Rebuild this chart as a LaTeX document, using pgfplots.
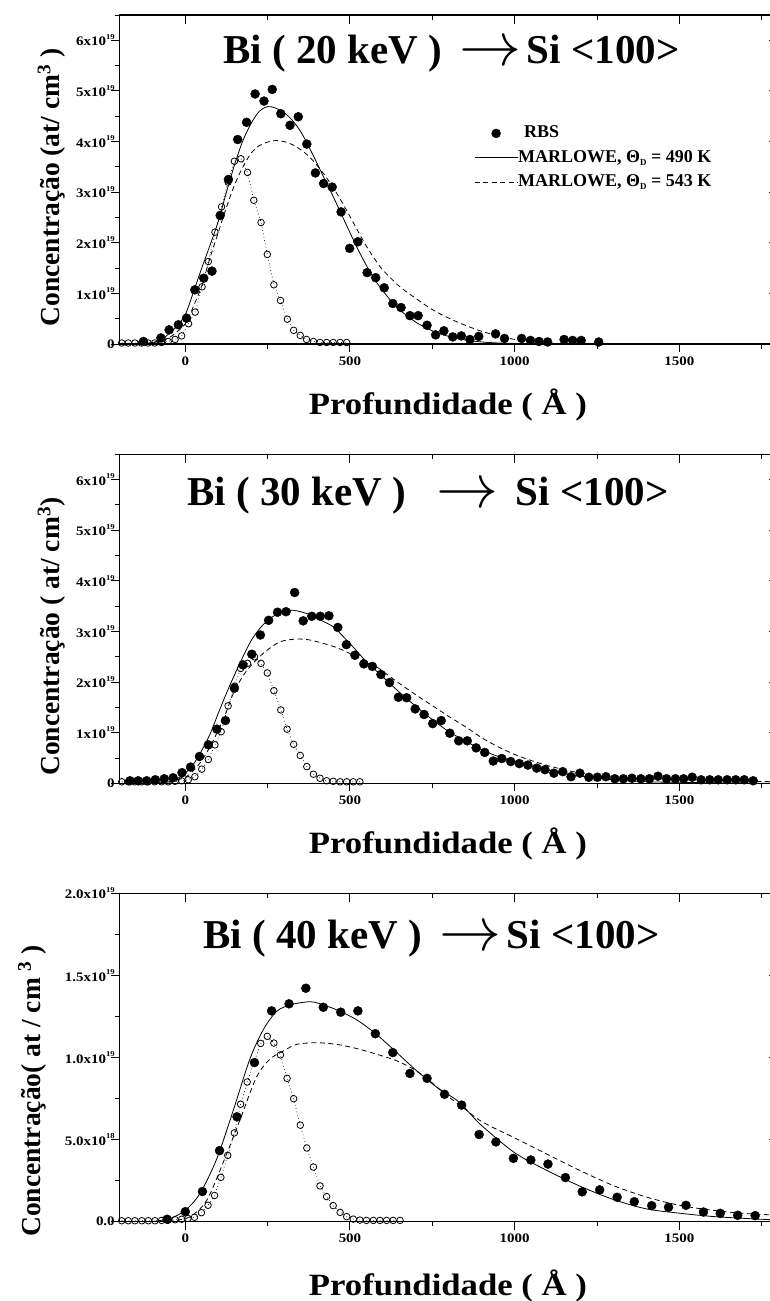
\documentclass[border=0pt]{standalone}
\usepackage{fontspec}
\setmainfont{Liberation Serif}
\usepackage{graphicx}
\usepackage{pgfplots}
\pgfplotsset{compat=1.18}

\newcommand{\tk}[1]{\scalebox{1.15}[1]{\fontsize{13}{13}\selectfont\bfseries #1}}
\newcommand{\ex}[1]{\raisebox{6.5pt}{\fontsize{7.5}{7.5}\selectfont\bfseries #1}}
\newcommand{\ttl}{\fontsize{41}{41}\selectfont\bfseries}
\newcommand{\arr}{\raisebox{-2.1pt}{\scalebox{6.2}{\fontsize{10}{10}\selectfont$\rightarrow$}}}
\newcommand{\xl}{\scalebox{1.12}[1]{Profundidade ( Å )}}

\pgfplotsset{
  panel/.style={scale only axis, width=658.8pt, xmin=-200, xmax=1800, ymin=0,
    xtick={0,500,1000,1500}, minor xtick={250,750,1250,1750},
    axis line style={line width=1.3pt}, every tick/.style={black, line width=1pt}, clip=false},
  lower/.style={panel, xtick pos=left, ytick pos=left, tick align=outside,
    major tick length=8pt, minor tick length=4.5pt,
    xticklabels={\tk{0},\tk{500},\tk{1000},\tk{1500}},
    xticklabel style={yshift=-1pt}, yticklabel style={inner xsep=1.5pt, xshift=5pt},
    xlabel style={font=\fontsize{31}{31}\selectfont\bfseries, anchor=base},
    ylabel style={font=\fontsize{27.5}{27.5}\selectfont\bfseries, anchor=base}},
  upper/.style={panel, xtick pos=right, ytick pos=right, tick align=inside,
    major tick length=9pt, minor tick length=5pt, xticklabels={}, yticklabels={},
    tick label style={opacity=0}},
  rbs/.style={only marks, mark=*, mark size=4.5pt, black},
  ocs/.style={black, line width=0.6pt, dash pattern=on 0.8pt off 2.6pt, mark=o,
    mark size=3.3pt, mark options={solid, line width=0.8pt}},
  m490/.style={black, line width=0.8pt, smooth, no marks},
  m543/.style={black, line width=0.8pt, dash pattern=on 5pt off 3.5pt, smooth, no marks},
  lineleg/.style={legend image code/.code={\draw[##1] (0pt,0pt) -- (43pt,0pt);}},
  markleg/.style={legend image code/.code={\draw[##1] plot coordinates {(21.5pt,0pt)};}},
}

\begin{document}
\begin{tikzpicture}

%%%%%%%%%%%%%%%% Panel 1 : 20 keV
\begin{axis}[upper, at={(119.4pt,-344pt)}, anchor=south west, height=329pt, ymax=6.5,
  ytick={0,1,2,3,4,5,6}, minor ytick={0.5,1.5,2.5,3.5,4.5,5.5,6.5}]
\end{axis}
\begin{axis}[lower, at={(119.4pt,-344pt)}, anchor=south west, height=329pt, ymax=6.5,
  ytick={0,1,2,3,4,5,6}, minor ytick={0.5,1.5,2.5,3.5,4.5,5.5,6.5},
  yticklabels={\tk{0},\tk{1x10\ex{19}},\tk{2x10\ex{19}},\tk{3x10\ex{19}},\tk{4x10\ex{19}},\tk{5x10\ex{19}},\tk{6x10\ex{19}}},
  xlabel={\xl}, xlabel style={at={(axis description cs:0.4988,-0.2128)}},
  ylabel={Concentração (at/ cm\textsuperscript{3} )}, ylabel style={at={(axis description cs:-0.0912,0.4757)}},
  legend style={draw=none, fill=none, at={(axis description cs:0.5383,0.6666)}, anchor=north west,
    font=\fontsize{18}{18}\selectfont\bfseries, inner sep=0pt, row sep=7.5pt, column sep=0pt,
    nodes={inner sep=0pt, text height=13pt, text depth=4pt}},
  legend cell align=left, lineleg]
\addplot[ocs, forget plot] table {
-193 0.02
-173 0.02
-153 0.02
-133 0.02
-113 0.02
-93 0.02
-72 0.03
-52 0.05
-31 0.09
-11 0.16
10 0.40
30 0.63
51 1.13
70 1.63
90 2.21
110 2.71
130 3.20
149 3.61
169 3.66
189 3.39
208 2.84
230 2.40
249 1.77
269 1.17
289 0.86
310 0.49
329 0.27
349 0.17
368 0.09
389 0.05
409 0.03
429 0.03
449 0.03
470 0.03
490 0.03
};
\addplot[rbs, markleg] table {
-127 0.05
-74 0.12
-49 0.28
-21 0.38
4 0.51
29 1.07
56 1.30
81 1.44
106 2.54
131 3.25
159 4.04
186 4.38
212 4.94
239 4.80
264 5.03
290 4.55
318 4.32
343 4.49
369 3.95
395 3.38
420 3.17
446 3.10
473 2.61
499 1.89
524 2.02
552 1.41
578 1.31
604 1.11
630 0.80
655 0.72
682 0.56
707 0.56
734 0.37
760 0.18
785 0.26
812 0.14
838 0.16
864 0.09
891 0.15
942 0.20
969 0.11
1021 0.11
1048 0.07
1074 0.05
1100 0.04
1150 0.09
1176 0.07
1202 0.07
1255 0.04
};
\addlegendentry{\hspace{6pt}RBS}
\addplot[m490] table {
-150 0
-100 0.03
-75 0.08
-50 0.20
-25 0.36
0 0.58
25 1.03
50 1.50
75 1.95
100 2.42
125 3.00
150 3.55
175 4.02
200 4.36
225 4.60
250 4.69
275 4.66
300 4.57
325 4.42
350 4.20
375 3.90
400 3.57
425 3.23
450 2.90
475 2.55
500 2.20
525 1.86
550 1.55
575 1.27
600 1.05
625 0.85
650 0.68
700 0.43
750 0.26
800 0.15
850 0.08
900 0.04
950 0.02
1000 0.01
1100 0
};
\addlegendentry{MARLOWE, Θ\raisebox{-3pt}{\fontsize{9}{9}\selectfont D} = 490 K}
\addplot[m543] table {
-120 0
-100 0.02
-50 0.12
0 0.40
25 0.75
50 1.15
75 1.70
100 2.20
125 2.70
150 3.15
175 3.50
200 3.77
225 3.92
250 3.99
275 4.02
300 4.00
325 3.94
350 3.84
375 3.71
400 3.53
425 3.32
450 3.08
475 2.81
500 2.52
525 2.22
550 1.93
575 1.68
600 1.46
650 1.14
700 0.90
750 0.68
800 0.51
850 0.37
900 0.25
950 0.16
1000 0.09
1050 0.05
1100 0.02
1150 0
};
\addlegendentry{MARLOWE, Θ\raisebox{-3pt}{\fontsize{9}{9}\selectfont D} = 543 K}
\node[anchor=base] at (axis description cs:0.5041,0.8532) {\ttl Bi ( 20 keV )\hspace{18pt}\arr\hspace{5pt}Si <100>};
\end{axis}

%%%%%%%%%%%%%%%% Panel 2 : 30 keV
\begin{axis}[upper, at={(119.4pt,-783.3pt)}, anchor=south west, height=329pt, ymax=6.5,
  ytick={0,1,2,3,4,5,6}, minor ytick={0.5,1.5,2.5,3.5,4.5,5.5,6.5}]
\end{axis}
\begin{axis}[lower, at={(119.4pt,-783.3pt)}, anchor=south west, height=329pt, ymax=6.5,
  ytick={0,1,2,3,4,5,6}, minor ytick={0.5,1.5,2.5,3.5,4.5,5.5,6.5},
  yticklabels={\tk{0},\tk{1x10\ex{19}},\tk{2x10\ex{19}},\tk{3x10\ex{19}},\tk{4x10\ex{19}},\tk{5x10\ex{19}},\tk{6x10\ex{19}}},
  xlabel={\xl}, xlabel style={at={(axis description cs:0.4988,-0.2119)}},
  ylabel={Concentração ( at/ cm\textsuperscript{3})}, ylabel style={at={(axis description cs:-0.0912,0.4456)}}]
\addplot[ocs] table {
-193 0.03
-173 0.03
-153 0.03
-133 0.03
-113 0.03
-93 0.03
-72 0.03
-52 0.03
-31 0.04
-11 0.05
9 0.07
29 0.13
50 0.28
70 0.47
90 0.76
109 1.02
130 1.53
150 1.92
168 2.27
189 2.37
210 2.50
230 2.37
249 2.18
269 1.83
290 1.45
309 1.07
329 0.77
349 0.55
369 0.33
389 0.18
409 0.10
429 0.05
449 0.04
470 0.03
490 0.03
510 0.03
530 0.03
};
\addplot[rbs] table {
-168 0.05
-143 0.05
-117 0.05
-91 0.07
-64 0.09
-37 0.11
-10 0.21
16 0.32
43 0.53
70 0.76
96 1.07
122 1.24
149 1.88
175 2.34
202 2.55
228 2.93
253 3.22
280 3.38
306 3.39
332 3.77
358 3.21
384 3.30
410 3.30
436 3.31
463 3.08
489 2.74
515 2.53
542 2.36
568 2.31
594 2.15
620 1.99
647 1.70
672 1.69
698 1.47
725 1.36
751 1.18
777 1.24
803 0.99
830 0.84
856 0.84
883 0.70
909 0.61
935 0.44
961 0.49
988 0.43
1014 0.39
1040 0.36
1067 0.30
1092 0.27
1119 0.20
1146 0.23
1171 0.13
1198 0.20
1225 0.12
1251 0.12
1277 0.13
1304 0.09
1330 0.09
1356 0.10
1383 0.09
1409 0.09
1435 0.14
1461 0.09
1488 0.09
1513 0.09
1539 0.12
1566 0.07
1592 0.07
1618 0.07
1645 0.07
1671 0.07
1697 0.07
1724 0.05
};
\addplot[m490] table {
-100 0
-50 0.03
-25 0.09
0 0.20
25 0.38
50 0.65
75 0.97
100 1.38
125 1.78
150 2.15
175 2.50
200 2.82
225 3.05
250 3.22
275 3.33
300 3.39
325 3.42
350 3.39
375 3.34
400 3.26
425 3.18
450 3.09
475 2.93
500 2.76
525 2.58
550 2.40
575 2.25
600 2.10
650 1.80
700 1.52
750 1.26
800 1.02
850 0.84
900 0.66
950 0.53
1000 0.43
1100 0.26
1200 0.14
1300 0.07
1400 0.03
1500 0.02
1600 0.01
1765 0
};
\addplot[m543] table {
-50 0.02
0 0.12
25 0.25
50 0.45
75 0.72
100 1.05
125 1.42
146 1.78
175 2.12
200 2.33
237 2.57
277 2.76
300 2.82
338 2.85
370 2.84
399 2.80
460 2.68
520 2.50
581 2.30
642 2.01
702 1.74
763 1.48
800 1.32
850 1.12
900 0.90
950 0.72
1000 0.57
1050 0.45
1100 0.35
1150 0.27
1200 0.20
1250 0.15
1300 0.12
1400 0.09
1500 0.07
1600 0.05
1700 0.04
1800 0.03
};
\node[anchor=base] at (axis description cs:0.4684,0.8459) {\ttl Bi ( 30 keV )\hspace{31pt}\arr\hspace{17pt}Si <100>};
\end{axis}

%%%%%%%%%%%%%%%% Panel 3 : 40 keV
\begin{axis}[upper, at={(119.4pt,-1221.7pt)}, anchor=south west, height=328.4pt, ymax=2,
  ytick={0,0.5,1,1.5,2}, minor ytick={0.25,0.75,1.25,1.75}]
\end{axis}
\begin{axis}[lower, at={(119.4pt,-1221.7pt)}, anchor=south west, height=328.4pt, ymax=2,
  ytick={0,0.5,1,1.5,2}, minor ytick={0.25,0.75,1.25,1.75},
  yticklabels={\tk{0.0},\tk{5.0x10\ex{18}},\tk{1.0x10\ex{19}},\tk{1.5x10\ex{19}},\tk{2.0x10\ex{19}}},
  xlabel={\xl}, xlabel style={at={(axis description cs:0.4988,-0.2232)}},
  ylabel={Concentração( at / cm \textsuperscript{3} )}, ylabel style={at={(axis description cs:-0.1205,0.3986)}}]
\addplot[ocs] table {
-193 0.006
-173 0.006
-153 0.006
-132 0.006
-112 0.006
-92 0.006
-72 0.008
-52 0.010
-31 0.012
-11 0.015
8 0.020
28 0.027
49 0.055
69 0.100
89 0.160
108 0.270
129 0.404
149 0.541
168 0.716
188 0.851
209 0.970
229 1.086
249 1.129
269 1.088
289 1.016
309 0.873
329 0.749
349 0.588
369 0.449
389 0.333
409 0.218
429 0.153
449 0.098
470 0.057
490 0.031
510 0.016
530 0.010
550 0.008
571 0.008
591 0.008
611 0.008
631 0.008
652 0.008
};
\addplot[rbs] table {
-55 0.015
0 0.061
52 0.184
104 0.433
157 0.639
210 0.969
262 1.284
315 1.327
366 1.422
419 1.306
472 1.276
524 1.284
577 1.145
630 1.030
682 0.903
734 0.873
787 0.776
839 0.710
892 0.531
943 0.486
996 0.386
1049 0.376
1101 0.351
1154 0.269
1205 0.182
1258 0.194
1311 0.149
1363 0.122
1416 0.098
1467 0.088
1520 0.100
1573 0.059
1624 0.051
1677 0.039
1730 0.037
};
\addplot[m490] table {
-100 0
-46 0.02
0 0.07
44 0.17
95 0.38
146 0.68
196 0.99
237 1.17
277 1.28
318 1.32
379 1.34
419 1.32
460 1.29
520 1.23
581 1.14
642 1.03
702 0.92
763 0.82
824 0.74
864 0.66
900 0.585
1000 0.42
1100 0.31
1200 0.215
1300 0.135
1400 0.078
1500 0.052
1600 0.032
1700 0.02
1800 0.01
};
\addplot[m543] table {
-50 0
14 0.03
65 0.13
115 0.36
166 0.62
216 0.88
257 0.99
298 1.04
338 1.08
399 1.09
460 1.08
520 1.055
581 1.02
642 0.98
692 0.93
735 0.87
787 0.78
840 0.70
900 0.61
1000 0.51
1100 0.41
1200 0.31
1300 0.22
1400 0.15
1500 0.10
1600 0.07
1700 0.05
1800 0.04
};
\node[anchor=base] at (axis description cs:0.4737,0.8325) {\ttl Bi ( 40 keV )\hspace{18pt}\arr\hspace{5pt}Si <100>};
\end{axis}

\pgfresetboundingbox
\path[use as bounding box] (0,0) rectangle (770pt,-1301pt);
\end{tikzpicture}
\end{document}
